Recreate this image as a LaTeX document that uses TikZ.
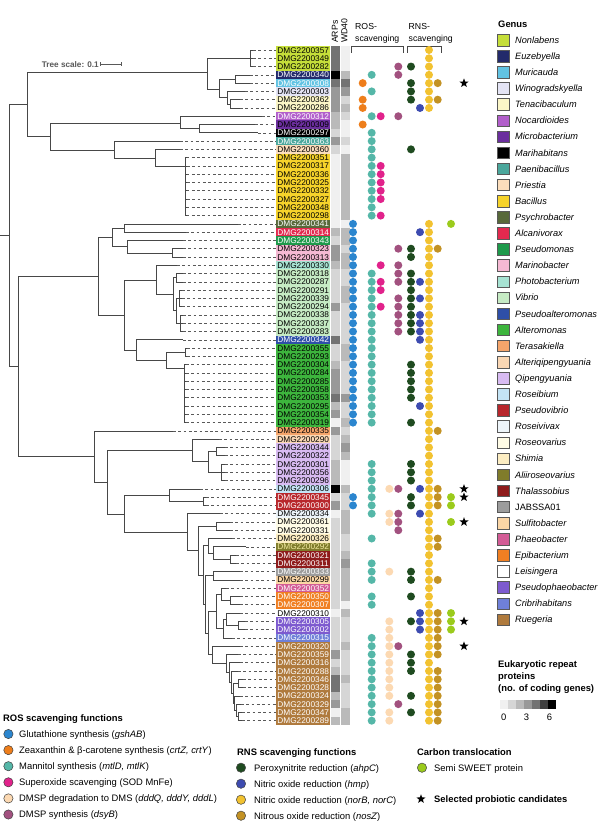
\documentclass[tikz,border=0pt]{standalone}
\usepackage{fontspec}
\setmainfont{Liberation Sans}
\usetikzlibrary{shapes.geometric}

% genus colours
\definecolor{cNon}{HTML}{C5DE3A}
\definecolor{cEuz}{HTML}{232A6B}
\definecolor{cMur}{HTML}{62C3E3}
\definecolor{cWin}{HTML}{E4E4F5}
\definecolor{cTen}{HTML}{FBF6C7}
\definecolor{cNoc}{HTML}{B25FCB}
\definecolor{cMic}{HTML}{6B2E9E}
\definecolor{cMar}{HTML}{000000}
\definecolor{cPae}{HTML}{4BA79C}
\definecolor{cPri}{HTML}{FCDEBC}
\definecolor{cBac}{HTML}{F6D32B}
\definecolor{cPsy}{HTML}{58693A}
\definecolor{cAlc}{HTML}{E3294F}
\definecolor{cPsm}{HTML}{1E9A4B}
\definecolor{cMrb}{HTML}{F5B9D3}
\definecolor{cPho}{HTML}{A7E3D3}
\definecolor{cVib}{HTML}{C6EBC4}
\definecolor{cPsa}{HTML}{2E4FA8}
\definecolor{cAlt}{HTML}{3DB53D}
\definecolor{cTer}{HTML}{F5A56B}
\definecolor{cAlq}{HTML}{FAD7B4}
\definecolor{cQip}{HTML}{D8BBF2}
\definecolor{cRsb}{HTML}{C4E4F5}
\definecolor{cPsv}{HTML}{B8272C}
\definecolor{cRsv}{HTML}{EEF5FA}
\definecolor{cRso}{HTML}{FFFCE6}
\definecolor{cShi}{HTML}{FCEDC2}
\definecolor{cAli}{HTML}{807C2B}
\definecolor{cAliT}{HTML}{F2EBA0}
\definecolor{cTha}{HTML}{8E1B1B}
\definecolor{cJab}{HTML}{9C9C9C}
\definecolor{cSul}{HTML}{FBD6A6}
\definecolor{cPha}{HTML}{D35C96}
\definecolor{cEpi}{HTML}{F07F22}
\definecolor{cLei}{HTML}{FFFFFF}
\definecolor{cPsp}{HTML}{7D5ACF}
\definecolor{cCri}{HTML}{6F80D8}
\definecolor{cRue}{HTML}{AF7A3D}
% function colours
\definecolor{dGlu}{HTML}{2B86CF}
\definecolor{dZea}{HTML}{EE7E1B}
\definecolor{dMan}{HTML}{55B7A8}
\definecolor{dSod}{HTML}{E1228B}
\definecolor{dDms}{HTML}{FCD9B2}
\definecolor{dDsy}{HTML}{A2517F}
\definecolor{dPer}{HTML}{1F4B20}
\definecolor{dHmp}{HTML}{3D4BB0}
\definecolor{dNor}{HTML}{F2C230}
\definecolor{dNos}{HTML}{C39224}
\definecolor{dSwe}{HTML}{9BCB1C}
% heatmap greys, 0 to 6 genes
\colorlet{g0}{black!6}
\colorlet{g1}{black!16}
\colorlet{g2}{black!27}
\colorlet{g3}{black!40}
\colorlet{g4}{black!55}
\colorlet{g5}{black!75}
\colorlet{g6}{black}

\pgfmathdeclarefunction{rowy}{1}{\pgfmathparse{50+8.28*(#1-1)}}

\tikzset{
  br/.style={draw=black!72,line width=0.65pt},
  dl/.style={draw=black!65,line width=0.6pt,dash pattern=on 2.7pt off 2.6pt},
  lab/.style={fill=#1,minimum width=54pt,minimum height=8.28pt,inner sep=0pt,anchor=west,text=black,font=\fontsize{8.3}{8.3}\selectfont,text height=6pt,text depth=0pt},
  labw/.style={lab=#1,text=white},
  hm/.style={fill=g#1,minimum width=9.5pt,minimum height=8.28pt,inner sep=0pt,anchor=west},
  dot/.style={circle,fill=#1,minimum size=8pt,inner sep=0pt},
  pstar/.style={star,star points=5,star point ratio=2.4,fill=black,inner sep=0pt,minimum size=9.5pt},
  tx/.style={inner sep=0pt,anchor=west,text height=6.7pt,text depth=0pt,font=\fontsize{9.4}{11}\selectfont},
  ttl/.style={tx,font=\fontsize{9.4}{11}\selectfont\bfseries},
  hdr/.style={inner sep=0pt,anchor=west,text height=6.2pt,text depth=0pt,font=\fontsize{8.7}{10}\selectfont},
  gsq/.style={draw=black!65,line width=0.5pt,fill=#1,minimum size=11.5pt,inner sep=0pt},
  gtx/.style={tx,font=\fontsize{9.2}{11}\selectfont\itshape},
  lgc/.style={circle,draw=black!75,line width=0.5pt,fill=#1,minimum size=9.3pt,inner sep=0pt},
  gcell/.style={fill=g#1,minimum width=7.6pt,minimum height=9.5pt,inner sep=0pt,anchor=west}
}

\begin{document}
\begin{tikzpicture}[x=1pt,y=-1pt]
\fill[white] (0,0) rectangle (600,823);
\useasboundingbox (0,0) rectangle (600,823);
%
% leaves: label, ARPs, WD40, branch tip
\node[lab=cNon] (l1) at (276,{rowy(1)}) {DMG2200357}; \node[hm=4] (a1) at (l1.east) {}; \node[hm=0] (w1) at (a1.east) {}; \coordinate (t1) at (253,{rowy(1)});
\node[lab=cNon] (l2) at (276,{rowy(2)}) {DMG2200349}; \node[hm=4] (a2) at (l2.east) {}; \node[hm=0] (w2) at (a2.east) {}; \coordinate (t2) at (253,{rowy(2)});
\node[lab=cNon] (l3) at (276,{rowy(3)}) {DMG2200282}; \node[hm=4] (a3) at (l3.east) {}; \node[hm=0] (w3) at (a3.east) {}; \coordinate (t3) at (253,{rowy(3)});
\node[labw=cEuz] (l4) at (276,{rowy(4)}) {DMG2200340}; \node[hm=6] (a4) at (l4.east) {}; \node[hm=2] (w4) at (a4.east) {}; \coordinate (t4) at (250,{rowy(4)});
\node[labw=cMur] (l5) at (276,{rowy(5)}) {DMG2200308}; \node[hm=4] (a5) at (l5.east) {}; \node[hm=4] (w5) at (a5.east) {}; \coordinate (t5) at (250,{rowy(5)});
\node[lab=cWin] (l6) at (276,{rowy(6)}) {DMG2200303}; \node[hm=3] (a6) at (l6.east) {}; \node[hm=3] (w6) at (a6.east) {}; \coordinate (t6) at (245,{rowy(6)});
\node[lab=cTen] (l7) at (276,{rowy(7)}) {DMG2200362}; \node[hm=3] (a7) at (l7.east) {}; \node[hm=1] (w7) at (a7.east) {}; \coordinate (t7) at (240,{rowy(7)});
\node[lab=cTen] (l8) at (276,{rowy(8)}) {DMG2200286}; \node[hm=3] (a8) at (l8.east) {}; \node[hm=2] (w8) at (a8.east) {}; \coordinate (t8) at (240,{rowy(8)});
\node[labw=cNoc] (l9) at (276,{rowy(9)}) {DMG2200312}; \node[hm=2] (a9) at (l9.east) {}; \node[hm=1] (w9) at (a9.east) {}; \coordinate (t9) at (262,{rowy(9)});
\node[lab=cMic] (l10) at (276,{rowy(10)}) {DMG2200309}; \node[hm=2] (a10) at (l10.east) {}; \node[hm=0] (w10) at (a10.east) {}; \coordinate (t10) at (255,{rowy(10)});
\node[labw=cMar] (l11) at (276,{rowy(11)}) {DMG2200297}; \node[hm=1] (a11) at (l11.east) {}; \node[hm=0] (w11) at (a11.east) {}; \coordinate (t11) at (258,{rowy(11)});
\node[labw=cPae] (l12) at (276,{rowy(12)}) {DMG2200363}; \node[hm=3] (a12) at (l12.east) {}; \node[hm=1] (w12) at (a12.east) {}; \coordinate (t12) at (180,{rowy(12)});
\node[lab=cPri] (l13) at (276,{rowy(13)}) {DMG2200360}; \node[hm=1] (a13) at (l13.east) {}; \node[hm=0] (w13) at (a13.east) {}; \coordinate (t13) at (180,{rowy(13)});
\node[lab=cBac] (l14) at (276,{rowy(14)}) {DMG2200351}; \node[hm=0] (a14) at (l14.east) {}; \node[hm=2] (w14) at (a14.east) {}; \coordinate (t14) at (186.5,{rowy(14)});
\node[lab=cBac] (l15) at (276,{rowy(15)}) {DMG2200317}; \node[hm=0] (a15) at (l15.east) {}; \node[hm=2] (w15) at (a15.east) {}; \coordinate (t15) at (187,{rowy(15)});
\node[lab=cBac] (l16) at (276,{rowy(16)}) {DMG2200336}; \node[hm=0] (a16) at (l16.east) {}; \node[hm=2] (w16) at (a16.east) {}; \coordinate (t16) at (186.5,{rowy(16)});
\node[lab=cBac] (l17) at (276,{rowy(17)}) {DMG2200325}; \node[hm=0] (a17) at (l17.east) {}; \node[hm=2] (w17) at (a17.east) {}; \coordinate (t17) at (187,{rowy(17)});
\node[lab=cBac] (l18) at (276,{rowy(18)}) {DMG2200332}; \node[hm=0] (a18) at (l18.east) {}; \node[hm=2] (w18) at (a18.east) {}; \coordinate (t18) at (186.5,{rowy(18)});
\node[lab=cBac] (l19) at (276,{rowy(19)}) {DMG2200327}; \node[hm=0] (a19) at (l19.east) {}; \node[hm=2] (w19) at (a19.east) {}; \coordinate (t19) at (187,{rowy(19)});
\node[lab=cBac] (l20) at (276,{rowy(20)}) {DMG2200348}; \node[hm=0] (a20) at (l20.east) {}; \node[hm=2] (w20) at (a20.east) {}; \coordinate (t20) at (186.5,{rowy(20)});
\node[lab=cBac] (l21) at (276,{rowy(21)}) {DMG2200298}; \node[hm=0] (a21) at (l21.east) {}; \node[hm=2] (w21) at (a21.east) {}; \coordinate (t21) at (186.5,{rowy(21)});
\node[labw=cPsy] (l22) at (276,{rowy(22)}) {DMG2200341}; \node[hm=0] (a22) at (l22.east) {}; \node[hm=0] (w22) at (a22.east) {}; \coordinate (t22) at (238,{rowy(22)});
\node[labw=cAlc] (l23) at (276,{rowy(23)}) {DMG2200314}; \node[hm=2] (a23) at (l23.east) {}; \node[hm=2] (w23) at (a23.east) {}; \coordinate (t23) at (186,{rowy(23)});
\node[labw=cPsm] (l24) at (276,{rowy(24)}) {DMG2200343}; \node[hm=1] (a24) at (l24.east) {}; \node[hm=2] (w24) at (a24.east) {}; \coordinate (t24) at (183,{rowy(24)});
\node[lab=cMrb] (l25) at (276,{rowy(25)}) {DMG2200323}; \node[hm=3] (a25) at (l25.east) {}; \node[hm=1] (w25) at (a25.east) {}; \coordinate (t25) at (183,{rowy(25)});
\node[lab=cMrb] (l26) at (276,{rowy(26)}) {DMG2200313}; \node[hm=3] (a26) at (l26.east) {}; \node[hm=2] (w26) at (a26.east) {}; \coordinate (t26) at (183,{rowy(26)});
\node[lab=cPho] (l27) at (276,{rowy(27)}) {DMG2200330}; \node[hm=2] (a27) at (l27.east) {}; \node[hm=2] (w27) at (a27.east) {}; \coordinate (t27) at (177,{rowy(27)});
\node[lab=cVib] (l28) at (276,{rowy(28)}) {DMG2200318}; \node[hm=1] (a28) at (l28.east) {}; \node[hm=1] (w28) at (a28.east) {}; \coordinate (t28) at (183,{rowy(28)});
\node[lab=cVib] (l29) at (276,{rowy(29)}) {DMG2200287}; \node[hm=1] (a29) at (l29.east) {}; \node[hm=1] (w29) at (a29.east) {}; \coordinate (t29) at (183,{rowy(29)});
\node[lab=cVib] (l30) at (276,{rowy(30)}) {DMG2200291}; \node[hm=1] (a30) at (l30.east) {}; \node[hm=2] (w30) at (a30.east) {}; \coordinate (t30) at (182,{rowy(30)});
\node[lab=cVib] (l31) at (276,{rowy(31)}) {DMG2200339}; \node[hm=1] (a31) at (l31.east) {}; \node[hm=2] (w31) at (a31.east) {}; \coordinate (t31) at (182,{rowy(31)});
\node[lab=cVib] (l32) at (276,{rowy(32)}) {DMG2200294}; \node[hm=3] (a32) at (l32.east) {}; \node[hm=1] (w32) at (a32.east) {}; \coordinate (t32) at (182,{rowy(32)});
\node[lab=cVib] (l33) at (276,{rowy(33)}) {DMG2200338}; \node[hm=1] (a33) at (l33.east) {}; \node[hm=1] (w33) at (a33.east) {}; \coordinate (t33) at (183,{rowy(33)});
\node[lab=cVib] (l34) at (276,{rowy(34)}) {DMG2200337}; \node[hm=1] (a34) at (l34.east) {}; \node[hm=1] (w34) at (a34.east) {}; \coordinate (t34) at (183,{rowy(34)});
\node[lab=cVib] (l35) at (276,{rowy(35)}) {DMG2200283}; \node[hm=1] (a35) at (l35.east) {}; \node[hm=1] (w35) at (a35.east) {}; \coordinate (t35) at (183,{rowy(35)});
\node[labw=cPsa] (l36) at (276,{rowy(36)}) {DMG2200342}; \node[hm=4] (a36) at (l36.east) {}; \node[hm=1] (w36) at (a36.east) {}; \coordinate (t36) at (183,{rowy(36)});
\node[lab=cAlt] (l37) at (276,{rowy(37)}) {DMG2200355}; \node[hm=1] (a37) at (l37.east) {}; \node[hm=2] (w37) at (a37.east) {}; \coordinate (t37) at (187,{rowy(37)});
\node[lab=cAlt] (l38) at (276,{rowy(38)}) {DMG2200293}; \node[hm=1] (a38) at (l38.east) {}; \node[hm=2] (w38) at (a38.east) {}; \coordinate (t38) at (187,{rowy(38)});
\node[lab=cAlt] (l39) at (276,{rowy(39)}) {DMG2200304}; \node[hm=2] (a39) at (l39.east) {}; \node[hm=1] (w39) at (a39.east) {}; \coordinate (t39) at (186,{rowy(39)});
\node[lab=cAlt] (l40) at (276,{rowy(40)}) {DMG2200284}; \node[hm=3] (a40) at (l40.east) {}; \node[hm=1] (w40) at (a40.east) {}; \coordinate (t40) at (186,{rowy(40)});
\node[lab=cAlt] (l41) at (276,{rowy(41)}) {DMG2200285}; \node[hm=3] (a41) at (l41.east) {}; \node[hm=1] (w41) at (a41.east) {}; \coordinate (t41) at (186,{rowy(41)});
\node[lab=cAlt] (l42) at (276,{rowy(42)}) {DMG2200358}; \node[hm=3] (a42) at (l42.east) {}; \node[hm=1] (w42) at (a42.east) {}; \coordinate (t42) at (186,{rowy(42)});
\node[lab=cAlt] (l43) at (276,{rowy(43)}) {DMG2200353}; \node[hm=4] (a43) at (l43.east) {}; \node[hm=3] (w43) at (a43.east) {}; \coordinate (t43) at (186,{rowy(43)});
\node[lab=cAlt] (l44) at (276,{rowy(44)}) {DMG2200295}; \node[hm=2] (a44) at (l44.east) {}; \node[hm=1] (w44) at (a44.east) {}; \coordinate (t44) at (186,{rowy(44)});
\node[lab=cAlt] (l45) at (276,{rowy(45)}) {DMG2200354}; \node[hm=3] (a45) at (l45.east) {}; \node[hm=1] (w45) at (a45.east) {}; \coordinate (t45) at (186,{rowy(45)});
\node[lab=cAlt] (l46) at (276,{rowy(46)}) {DMG2200319}; \node[hm=0] (a46) at (l46.east) {}; \node[hm=2] (w46) at (a46.east) {}; \coordinate (t46) at (186,{rowy(46)});
\node[lab=cTer] (l47) at (276,{rowy(47)}) {DMG2200335}; \node[hm=3] (a47) at (l47.east) {}; \node[hm=1] (w47) at (a47.east) {}; \coordinate (t47) at (173,{rowy(47)});
\node[lab=cAlq] (l48) at (276,{rowy(48)}) {DMG2200290}; \node[hm=1] (a48) at (l48.east) {}; \node[hm=2] (w48) at (a48.east) {}; \coordinate (t48) at (219,{rowy(48)});
\node[lab=cQip] (l49) at (276,{rowy(49)}) {DMG2200344}; \node[hm=1] (a49) at (l49.east) {}; \node[hm=3] (w49) at (a49.east) {}; \coordinate (t49) at (225,{rowy(49)});
\node[lab=cQip] (l50) at (276,{rowy(50)}) {DMG2200322}; \node[hm=1] (a50) at (l50.east) {}; \node[hm=2] (w50) at (a50.east) {}; \coordinate (t50) at (225,{rowy(50)});
\node[lab=cQip] (l51) at (276,{rowy(51)}) {DMG2200301}; \node[hm=2] (a51) at (l51.east) {}; \node[hm=0] (w51) at (a51.east) {}; \coordinate (t51) at (225,{rowy(51)});
\node[lab=cQip] (l52) at (276,{rowy(52)}) {DMG2200356}; \node[hm=2] (a52) at (l52.east) {}; \node[hm=0] (w52) at (a52.east) {}; \coordinate (t52) at (225,{rowy(52)});
\node[lab=cQip] (l53) at (276,{rowy(53)}) {DMG2200296}; \node[hm=2] (a53) at (l53.east) {}; \node[hm=0] (w53) at (a53.east) {}; \coordinate (t53) at (225,{rowy(53)});
\node[lab=cRsb] (l54) at (276,{rowy(54)}) {DMG2200306}; \node[hm=6] (a54) at (l54.east) {}; \node[hm=2] (w54) at (a54.east) {}; \coordinate (t54) at (200,{rowy(54)});
\node[labw=cPsv] (l55) at (276,{rowy(55)}) {DMG2200345}; \node[hm=1] (a55) at (l55.east) {}; \node[hm=1] (w55) at (a55.east) {}; \coordinate (t55) at (206,{rowy(55)});
\node[labw=cPsv] (l56) at (276,{rowy(56)}) {DMG2200300}; \node[hm=3] (a56) at (l56.east) {}; \node[hm=1] (w56) at (a56.east) {}; \coordinate (t56) at (206,{rowy(56)});
\node[lab=cRsv] (l57) at (276,{rowy(57)}) {DMG2200334}; \node[hm=0] (a57) at (l57.east) {}; \node[hm=2] (w57) at (a57.east) {}; \coordinate (t57) at (220,{rowy(57)});
\node[lab=cRso] (l58) at (276,{rowy(58)}) {DMG2200361}; \node[hm=1] (a58) at (l58.east) {}; \node[hm=2] (w58) at (a58.east) {}; \coordinate (t58) at (230,{rowy(58)});
\node[lab=cRso] (l59) at (276,{rowy(59)}) {DMG2200331}; \node[hm=1] (a59) at (l59.east) {}; \node[hm=2] (w59) at (a59.east) {}; \coordinate (t59) at (230,{rowy(59)});
\node[lab=cShi] (l60) at (276,{rowy(60)}) {DMG2200326}; \node[hm=1] (a60) at (l60.east) {}; \node[hm=1] (w60) at (a60.east) {}; \coordinate (t60) at (232,{rowy(60)});
\node[lab=cAli,text=cAliT] (l61) at (276,{rowy(61)}) {DMG2200292}; \node[hm=1] (a61) at (l61.east) {}; \node[hm=1] (w61) at (a61.east) {}; \coordinate (t61) at (246,{rowy(61)});
\node[labw=cTha] (l62) at (276,{rowy(62)}) {DMG2200321}; \node[hm=1] (a62) at (l62.east) {}; \node[hm=2] (w62) at (a62.east) {}; \coordinate (t62) at (236,{rowy(62)});
\node[labw=cTha] (l63) at (276,{rowy(63)}) {DMG2200311}; \node[hm=1] (a63) at (l63.east) {}; \node[hm=3] (w63) at (a63.east) {}; \coordinate (t63) at (236,{rowy(63)});
\node[labw=cJab] (l64) at (276,{rowy(64)}) {DMG2200333}; \node[hm=1] (a64) at (l64.east) {}; \node[hm=2] (w64) at (a64.east) {}; \coordinate (t64) at (240,{rowy(64)});
\node[lab=cSul] (l65) at (276,{rowy(65)}) {DMG2200299}; \node[hm=1] (a65) at (l65.east) {}; \node[hm=2] (w65) at (a65.east) {}; \coordinate (t65) at (240,{rowy(65)});
\node[labw=cPha] (l66) at (276,{rowy(66)}) {DMG2200352}; \node[hm=1] (a66) at (l66.east) {}; \node[hm=2] (w66) at (a66.east) {}; \coordinate (t66) at (226,{rowy(66)});
\node[labw=cEpi] (l67) at (276,{rowy(67)}) {DMG2200350}; \node[hm=1] (a67) at (l67.east) {}; \node[hm=2] (w67) at (a67.east) {}; \coordinate (t67) at (240,{rowy(67)});
\node[labw=cEpi] (l68) at (276,{rowy(68)}) {DMG2200307}; \node[hm=1] (a68) at (l68.east) {}; \node[hm=0] (w68) at (a68.east) {}; \coordinate (t68) at (240,{rowy(68)});
\node[lab=cLei] (l69) at (276,{rowy(69)}) {DMG2200310}; \node[hm=0] (a69) at (l69.east) {}; \node[hm=2] (w69) at (a69.east) {}; \coordinate (t69) at (240,{rowy(69)});
\node[labw=cPsp] (l70) at (276,{rowy(70)}) {DMG2200305}; \node[hm=1] (a70) at (l70.east) {}; \node[hm=1] (w70) at (a70.east) {}; \coordinate (t70) at (245,{rowy(70)});
\node[labw=cPsp] (l71) at (276,{rowy(71)}) {DMG2200302}; \node[hm=1] (a71) at (l71.east) {}; \node[hm=1] (w71) at (a71.east) {}; \coordinate (t71) at (245,{rowy(71)});
\node[labw=cCri] (l72) at (276,{rowy(72)}) {DMG2200315}; \node[hm=1] (a72) at (l72.east) {}; \node[hm=1] (w72) at (a72.east) {}; \coordinate (t72) at (232,{rowy(72)});
\node[labw=cRue] (l73) at (276,{rowy(73)}) {DMG2200320}; \node[hm=1] (a73) at (l73.east) {}; \node[hm=2] (w73) at (a73.east) {}; \coordinate (t73) at (240,{rowy(73)});
\node[labw=cRue] (l74) at (276,{rowy(74)}) {DMG2200359}; \node[hm=3] (a74) at (l74.east) {}; \node[hm=1] (w74) at (a74.east) {}; \coordinate (t74) at (238,{rowy(74)});
\node[labw=cRue] (l75) at (276,{rowy(75)}) {DMG2200316}; \node[hm=1] (a75) at (l75.east) {}; \node[hm=1] (w75) at (a75.east) {}; \coordinate (t75) at (240,{rowy(75)});
\node[labw=cRue] (l76) at (276,{rowy(76)}) {DMG2200288}; \node[hm=2] (a76) at (l76.east) {}; \node[hm=1] (w76) at (a76.east) {}; \coordinate (t76) at (238,{rowy(76)});
\node[labw=cRue] (l77) at (276,{rowy(77)}) {DMG2200346}; \node[hm=4] (a77) at (l77.east) {}; \node[hm=2] (w77) at (a77.east) {}; \coordinate (t77) at (243,{rowy(77)});
\node[labw=cRue] (l78) at (276,{rowy(78)}) {DMG2200328}; \node[hm=4] (a78) at (l78.east) {}; \node[hm=1] (w78) at (a78.east) {}; \coordinate (t78) at (243,{rowy(78)});
\node[labw=cRue] (l79) at (276,{rowy(79)}) {DMG2200324}; \node[hm=2] (a79) at (l79.east) {}; \node[hm=1] (w79) at (a79.east) {}; \coordinate (t79) at (240,{rowy(79)});
\node[labw=cRue] (l80) at (276,{rowy(80)}) {DMG2200329}; \node[hm=3] (a80) at (l80.east) {}; \node[hm=1] (w80) at (a80.east) {}; \coordinate (t80) at (241,{rowy(80)});
\node[labw=cRue] (l81) at (276,{rowy(81)}) {DMG2200347}; \node[hm=0] (a81) at (l81.east) {}; \node[hm=2] (w81) at (a81.east) {}; \coordinate (t81) at (242,{rowy(81)});
\node[labw=cRue] (l82) at (276,{rowy(82)}) {DMG2200289}; \node[hm=2] (a82) at (l82.east) {}; \node[hm=2] (w82) at (a82.east) {}; \coordinate (t82) at (242,{rowy(82)});
%
% inner nodes of the tree
\coordinate (root) at (0,235.3);
\coordinate (n0) at (9.3,235.3);
\coordinate (nA) at (27.7,104.3);
\coordinate (nB) at (207.7,72.7);
\coordinate (nC) at (250,58.28);
\coordinate (nD) at (219.3,89);
\coordinate (nE) at (235,78.98);
\coordinate (nF) at (227.7,97.6);
\coordinate (nG) at (230,103.82);
\coordinate (nH) at (50,136.7);
\coordinate (nI) at (180,123);
\coordinate (nJ) at (199.3,128.66);
\coordinate (nK) at (114,150);
\coordinate (nL) at (155.7,158);
\coordinate (nM) at (185,166);
\coordinate (nN) at (18.3,366.7);
\coordinate (nO) at (98.3,276.7);
\coordinate (nP) at (112.7,237.7);
\coordinate (nQ) at (124,228.02);
\coordinate (nR) at (127.3,246.7);
\coordinate (nS) at (172.3,252.86);
\coordinate (nT) at (124.7,315.7);
\coordinate (nU) at (156,280);
\coordinate (nV) at (173.3,294);
\coordinate (nW) at (176.7,277.7);
\coordinate (nX) at (176.5,310.8);
\coordinate (nXa) at (179,298.4);
\coordinate (nXb) at (180.5,323.24);
\coordinate (nY) at (136.7,350);
\coordinate (nZ) at (166.7,360);
\coordinate (nAA) at (185,352.22);
\coordinate (nAB) at (184.3,368);
\coordinate (nAC) at (94.3,456.7);
\coordinate (nAD) at (107.3,482.3);
\coordinate (nAE) at (192.7,450);
\coordinate (nAF) at (208.7,461);
\coordinate (nAG) at (216.7,451.58);
\coordinate (nAH) at (221.7,472.28);
\coordinate (nAI) at (124,514.3);
\coordinate (nAJ) at (169,495);
\coordinate (nAK) at (203.3,501.26);
\coordinate (nAL) at (187.3,532);
\coordinate (nAM) at (198.3,550);
\coordinate (nAN) at (216.7,526.1);
\coordinate (nAO) at (203.3,575);
\coordinate (nAP) at (208.3,545.7);
\coordinate (nAPb) at (213.3,553);
\coordinate (nAPc) at (230.7,559.22);
\coordinate (nAQ) at (205.5,604.4);
\coordinate (nAR) at (213.3,575.78);
\coordinate (nAS) at (208.5,633);
\coordinate (nAT) at (216.7,611.5);
\coordinate (nATa) at (221.7,594.4);
\coordinate (nATb) at (230.7,600.62);
\coordinate (nATc) at (223.3,628.5);
\coordinate (nATd) at (226.7,619.25);
\coordinate (nATe) at (238.3,625.46);
\coordinate (nAU) at (212,654.8);
\coordinate (nAV) at (226.7,663.4);
\coordinate (nAW) at (229,672.4);
\coordinate (nAX) at (231,682);
\coordinate (nAY) at (233,693);
\coordinate (nAZ) at (238.3,683.42);
\coordinate (nBA) at (234.5,703);
\coordinate (nBB) at (236,710.3);
\coordinate (nBC) at (238.3,716.54);
%
% branches
\draw[br] (root) -- (n0);
\draw[br] (n0) |- (nA) (n0) |- (nN);
\draw[br] (nA) |- (nB) (nA) |- (nH);
\draw[br] (nB) |- (nC) (nB) |- (nD);
\draw[br] (nC) |- (t1) (nC) |- (t2) (nC) |- (t3);
\draw[br] (nD) |- (nE) (nD) |- (nF);
\draw[br] (nE) |- (t4) (nE) |- (t5);
\draw[br] (nF) |- (t6) (nF) |- (nG);
\draw[br] (nG) |- (t7) (nG) |- (t8);
\draw[br] (nH) |- (nI) (nH) |- (nK);
\draw[br] (nI) |- (t9) (nI) |- (nJ);
\draw[br] (nJ) |- (t10) (nJ) |- (t11);
\draw[br] (nK) |- (t12) (nK) |- (nL);
\draw[br] (nL) |- (t13) (nL) |- (nM);
\foreach \i in {14,...,21} \draw[br] (nM) |- (t\i);
\draw[br] (nN) |- (nO) (nN) |- (nAC);
\draw[br] (nO) |- (nP) (nO) |- (nT);
\draw[br] (nP) |- (nQ) (nP) |- (nR);
\draw[br] (nQ) |- (t22) (nQ) |- (t23);
\draw[br] (nR) |- (t24) (nR) |- (nS);
\draw[br] (nS) |- (t25) (nS) |- (t26);
\draw[br] (nT) |- (nU) (nT) |- (nY);
\draw[br] (nU) |- (t27) (nU) |- (nV);
\draw[br] (nV) |- (nW) (nV) |- (nX);
\draw[br] (nW) |- (t28) (nW) |- (t29);
\draw[br] (nX) |- (nXa) (nX) |- (nXb);
\draw[br] (nXa) |- (t30) (nXa) |- (t31) (nXa) |- (t32);
\draw[br] (nXb) |- (t33) (nXb) |- (t34) (nXb) |- (t35);
\draw[br] (nY) |- (t36) (nY) |- (nZ);
\draw[br] (nZ) |- (nAA) (nZ) |- (nAB);
\draw[br] (nAA) |- (t37) (nAA) |- (t38);
\foreach \i in {39,...,46} \draw[br] (nAB) |- (t\i);
\draw[br] (nAC) |- (t47) (nAC) |- (nAD);
\draw[br] (nAD) |- (nAE) (nAD) |- (nAI);
\draw[br] (nAE) |- (t48) (nAE) |- (nAF);
\draw[br] (nAF) |- (nAG) (nAF) |- (nAH);
\draw[br] (nAG) |- (t49) (nAG) |- (t50);
\draw[br] (nAH) |- (t51) (nAH) |- (t52) (nAH) |- (t53);
\draw[br] (nAI) |- (nAJ) (nAI) |- (nAL);
\draw[br] (nAJ) |- (t54) (nAJ) |- (nAK);
\draw[br] (nAK) |- (t55) (nAK) |- (t56);
\draw[br] (nAL) |- (t57) (nAL) |- (nAM);
\draw[br] (nAM) |- (nAN) (nAM) |- (nAO);
\draw[br] (nAN) |- (t58) (nAN) |- (t59);
\draw[br] (nAO) |- (nAP) (nAO) |- (nAQ);
\draw[br] (nAP) |- (t60) (nAP) |- (nAPb);
\draw[br] (nAPb) |- (t61) (nAPb) |- (nAPc);
\draw[br] (nAPc) |- (t62) (nAPc) |- (t63);
\draw[br] (nAQ) |- (nAR) (nAQ) |- (nAS);
\draw[br] (nAR) |- (t64) (nAR) |- (t65);
\draw[br] (nAS) |- (nAT) (nAS) |- (nAU);
\draw[br] (nAT) |- (nATa) (nAT) |- (nATc);
\draw[br] (nATa) |- (t66) (nATa) |- (nATb);
\draw[br] (nATb) |- (t67) (nATb) |- (t68);
\draw[br] (nATc) |- (nATd) (nATc) |- (t72);
\draw[br] (nATd) |- (t69) (nATd) |- (nATe);
\draw[br] (nATe) |- (t70) (nATe) |- (t71);
\draw[br] (nAU) |- (t73) (nAU) |- (nAV);
\draw[br] (nAV) |- (t74) (nAV) |- (nAW);
\draw[br] (nAW) |- (t75) (nAW) |- (nAX);
\draw[br] (nAX) |- (t76) (nAX) |- (nAY);
\draw[br] (nAY) |- (nAZ) (nAY) |- (nBA);
\draw[br] (nAZ) |- (t77) (nAZ) |- (t78);
\draw[br] (nBA) |- (t79) (nBA) |- (nBB);
\draw[br] (nBB) |- (t80) (nBB) |- (nBC);
\draw[br] (nBC) |- (t81) (nBC) |- (t82);
\foreach \i in {1,...,82} \draw[dl] (t\i) -- (l\i.west);
%
% tree scale
\node[ttl,font=\fontsize{8.2}{10}\selectfont\bfseries,text=black!65] (tsc) at (41.7,64) {Tree scale: 0.1};
\coordinate (sb1) at (100,64);
\coordinate (sb2) at (121.7,64);
\draw[br,draw=black!65] (sb1) -- (sb2) (sb1) ++(0,-2) -- ++(0,4) (sb2) ++(0,-2) -- ++(0,4);
%
% column headers
\node[hdr,rotate=90] (arp) at (334.75,43) {ARPs};
\node[hdr,rotate=90] (wd) at (344.25,43) {WD40};
\node[hdr,anchor=base west] (ros1) at (355,29.5) {ROS-};
\node[hdr,anchor=base west] (ros2) at (355,41) {scavenging};
\node[hdr,anchor=base west] (rns1) at (408.5,29.5) {RNS-};
\node[hdr,anchor=base west] (rns2) at (408.5,41) {scavenging};
\draw[br] (351.7,52.5) -- (351.7,46.7) -- (403,46.7) -- (403,52.5);
\draw[br] (407.3,52.5) -- (407.3,46.7) -- (441.7,46.7) -- (441.7,52.5);
%
% function dots
\foreach \i in {22,...,46,55,56} \node[dot=dGlu] (gl\i) at (353,{rowy(\i)}) {};
\foreach \i in {5,7,8,10} \node[dot=dZea] (ze\i) at (362.7,{rowy(\i)}) {};
\foreach \i in {4,6,9,11,12,13,14,15,16,17,18,19,20,21,28,29,30,31,32,33,34,35,36,37,38,39,40,41,42,43,44,45,46,51,52,53,54,55,56,57,60,63,64,65,67,68,72,73,74,75,76,77,78,79,80,81,82} \node[dot=dMan] (ma\i) at (371.7,{rowy(\i)}) {};
\foreach \i in {9,15,16,17,18,19,21,27,29,30,32} \node[dot=dSod] (so\i) at (380.7,{rowy(\i)}) {};
\foreach \i in {54,57,58,64,70,71,72,73,74,75,76,77,78,79,81,82} \node[dot=dDms] (dm\i) at (389.3,{rowy(\i)}) {};
\foreach \i in {3,4,9,25,27,28,29,31,32,33,34,35,54,57,58,59,73,80} \node[dot=dDsy] (ds\i) at (398.3,{rowy(\i)}) {};
\foreach \i in {3,5,6,7,13,25,26,28,29,30,31,32,33,34,35,39,40,41,42,43,46,51,52,53,55,56,64,65,67,70,74,75,76,79,81} \node[dot=dPer] (pe\i) at (411,{rowy(\i)}) {};
\foreach \i in {8,23,29,31,33,34,35,36,44,54,57,69,70,71} \node[dot=dHmp] (hp\i) at (420,{rowy(\i)}) {};
\foreach \i in {1,...,8} \node[dot=dNor] (no\i) at (429,{rowy(\i)}) {};
\foreach \i in {22,...,82} \node[dot=dNor] (no\i) at (429,{rowy(\i)}) {};
\foreach \i in {5,7,25,47,54,55,56,60,61,65,69,70,71,72,73,74,76,77,78,79,80,81,82} \node[dot=dNos] (nz\i) at (437.7,{rowy(\i)}) {};
\foreach \i in {22,55,56,58,69,70,71} \node[dot=dSwe] (sw\i) at (451,{rowy(\i)}) {};
\foreach \i in {5,54,55,58,70,73} \node[pstar] (st\i) at (464,{rowy(\i)}) {};
%
% genus legend
\node[ttl] (genT) at (498,24) {Genus};
\node[gsq=cNon] (g1) at (503,40) {}; \node[gtx] (g1t) at (515,40) {Nonlabens};
\node[gsq=cEuz] (g2) at (503,56.1) {}; \node[gtx] (g2t) at (515,56.1) {Euzebyella};
\node[gsq=cMur] (g3) at (503,72.2) {}; \node[gtx] (g3t) at (515,72.2) {Muricauda};
\node[gsq=cWin] (g4) at (503,88.3) {}; \node[gtx] (g4t) at (515,88.3) {Winogradskyella};
\node[gsq=cTen] (g5) at (503,104.4) {}; \node[gtx] (g5t) at (515,104.4) {Tenacibaculum};
\node[gsq=cNoc] (g6) at (503,120.5) {}; \node[gtx] (g6t) at (515,120.5) {Nocardioides};
\node[gsq=cMic] (g7) at (503,136.6) {}; \node[gtx] (g7t) at (515,136.6) {Microbacterium};
\node[gsq=cMar] (g8) at (503,152.7) {}; \node[gtx] (g8t) at (515,152.7) {Marihabitans};
\node[gsq=cPae] (g9) at (503,168.8) {}; \node[gtx] (g9t) at (515,168.8) {Paenibacillus};
\node[gsq=cPri] (g10) at (503,184.9) {}; \node[gtx] (g10t) at (515,184.9) {Priestia};
\node[gsq=cBac] (g11) at (503,201) {}; \node[gtx] (g11t) at (515,201) {Bacillus};
\node[gsq=cPsy] (g12) at (503,217.1) {}; \node[gtx] (g12t) at (515,217.1) {Psychrobacter};
\node[gsq=cAlc] (g13) at (503,233.2) {}; \node[gtx] (g13t) at (515,233.2) {Alcanivorax};
\node[gsq=cPsm] (g14) at (503,249.3) {}; \node[gtx] (g14t) at (515,249.3) {Pseudomonas};
\node[gsq=cMrb] (g15) at (503,265.4) {}; \node[gtx] (g15t) at (515,265.4) {Marinobacter};
\node[gsq=cPho] (g16) at (503,281.5) {}; \node[gtx] (g16t) at (515,281.5) {Photobacterium};
\node[gsq=cVib] (g17) at (503,297.6) {}; \node[gtx] (g17t) at (515,297.6) {Vibrio};
\node[gsq=cPsa] (g18) at (503,313.7) {}; \node[gtx] (g18t) at (515,313.7) {Pseudoalteromonas};
\node[gsq=cAlt] (g19) at (503,329.8) {}; \node[gtx] (g19t) at (515,329.8) {Alteromonas};
\node[gsq=cTer] (g20) at (503,345.9) {}; \node[gtx] (g20t) at (515,345.9) {Terasakiella};
\node[gsq=cAlq] (g21) at (503,362) {}; \node[gtx] (g21t) at (515,362) {Alteriqipengyuania};
\node[gsq=cQip] (g22) at (503,378.1) {}; \node[gtx] (g22t) at (515,378.1) {Qipengyuania};
\node[gsq=cRsb] (g23) at (503,394.2) {}; \node[gtx] (g23t) at (515,394.2) {Roseibium};
\node[gsq=cPsv] (g24) at (503,410.3) {}; \node[gtx] (g24t) at (515,410.3) {Pseudovibrio};
\node[gsq=cRsv] (g25) at (503,426.4) {}; \node[gtx] (g25t) at (515,426.4) {Roseivivax};
\node[gsq=cRso] (g26) at (503,442.5) {}; \node[gtx] (g26t) at (515,442.5) {Roseovarius};
\node[gsq=cShi] (g27) at (503,458.6) {}; \node[gtx] (g27t) at (515,458.6) {Shimia};
\node[gsq=cAli] (g28) at (503,474.7) {}; \node[gtx] (g28t) at (515,474.7) {Aliiroseovarius};
\node[gsq=cTha] (g29) at (503,490.8) {}; \node[gtx] (g29t) at (515,490.8) {Thalassobius};
\node[gsq=cJab] (g30) at (503,506.9) {}; \node[gtx,font=\fontsize{9.2}{11}\selectfont] (g30t) at (515,506.9) {JABSSA01};
\node[gsq=cSul] (g31) at (503,523) {}; \node[gtx] (g31t) at (515,523) {Sulfitobacter};
\node[gsq=cPha] (g32) at (503,539.1) {}; \node[gtx] (g32t) at (515,539.1) {Phaeobacter};
\node[gsq=cEpi] (g33) at (503,555.2) {}; \node[gtx] (g33t) at (515,555.2) {Epibacterium};
\node[gsq=cLei] (g34) at (503,571.3) {}; \node[gtx] (g34t) at (515,571.3) {Leisingera};
\node[gsq=cPsp] (g35) at (503,587.4) {}; \node[gtx] (g35t) at (515,587.4) {Pseudophaeobacter};
\node[gsq=cCri] (g36) at (503,603.5) {}; \node[gtx] (g36t) at (515,603.5) {Cribrihabitans};
\node[gsq=cRue] (g37) at (503,619.6) {}; \node[gtx] (g37t) at (515,619.6) {Ruegeria};
%
% repeat protein scale
\node[ttl] (eukT1) at (498,664) {Eukaryotic repeat};
\node[ttl] (eukT2) at (498,676) {proteins};
\node[ttl] (eukT3) at (498,688) {(no. of coding genes)};
\node[gcell=0] (e0) at (500,704.5) {};
\node[gcell=1] (e1) at (e0.east) {};
\node[gcell=2] (e2) at (e1.east) {};
\node[gcell=3] (e3) at (e2.east) {};
\node[gcell=4] (e4) at (e3.east) {};
\node[gcell=5] (e5) at (e4.east) {};
\node[gcell=6] (e6) at (e5.east) {};
\node[tx,anchor=center] (k0) at (503.8,717) {0};
\node[tx,anchor=center] (k3) at (526.6,717) {3};
\node[tx,anchor=center] (k6) at (549.4,717) {6};
%
% ROS legend
\node[ttl] (rosT) at (3,718) {ROS scavenging functions};
\node[lgc=dGlu] (r1) at (8.4,734) {}; \node[tx] (r1t) at (19,734) {Glutathione synthesis (\textit{gshAB})};
\node[lgc=dZea] (r2) at (8.4,750.1) {}; \node[tx] (r2t) at (19,750.1) {Zeaxanthin \& β-carotene synthesis (\textit{crtZ, crtY})};
\node[lgc=dMan] (r3) at (8.4,766.2) {}; \node[tx] (r3t) at (19,766.2) {Mannitol synthesis (\textit{mtlD, mtlK})};
\node[lgc=dSod] (r4) at (8.4,782.3) {}; \node[tx] (r4t) at (19,782.3) {Superoxide scavenging (SOD MnFe)};
\node[lgc=dDms] (r5) at (8.4,798.4) {}; \node[tx] (r5t) at (19,798.4) {DMSP degradation to DMS (\textit{dddQ, dddY, dddL})};
\node[lgc=dDsy] (r6) at (8.4,814.5) {}; \node[tx] (r6t) at (19,814.5) {DMSP synthesis (\textit{dsyB})};
%
% RNS legend
\node[ttl] (rnsT) at (237,751.7) {RNS scavenging functions};
\node[lgc=dPer] (s1) at (241,767.7) {}; \node[tx] (s1t) at (254,767.7) {Peroxynitrite reduction (\textit{ahpC})};
\node[lgc=dHmp] (s2) at (241,783.7) {}; \node[tx] (s2t) at (254,783.7) {Nitric oxide reduction (\textit{hmp})};
\node[lgc=dNor] (s3) at (241,799.7) {}; \node[tx] (s3t) at (254,799.7) {Nitric oxide reduction (\textit{norB, norC})};
\node[lgc=dNos] (s4) at (241,815.7) {}; \node[tx] (s4t) at (254,815.7) {Nitrous oxide reduction (\textit{nosZ})};
%
% carbon translocation and candidates
\node[ttl] (carT) at (417,751.7) {Carbon translocation};
\node[lgc=dSwe] (c1) at (422,767.7) {}; \node[tx] (c1t) at (434,767.7) {Semi SWEET protein};
\node[pstar] (cand) at (421,799) {}; \node[ttl] (candt) at (434,799) {Selected probiotic candidates};
\end{tikzpicture}
\end{document}
